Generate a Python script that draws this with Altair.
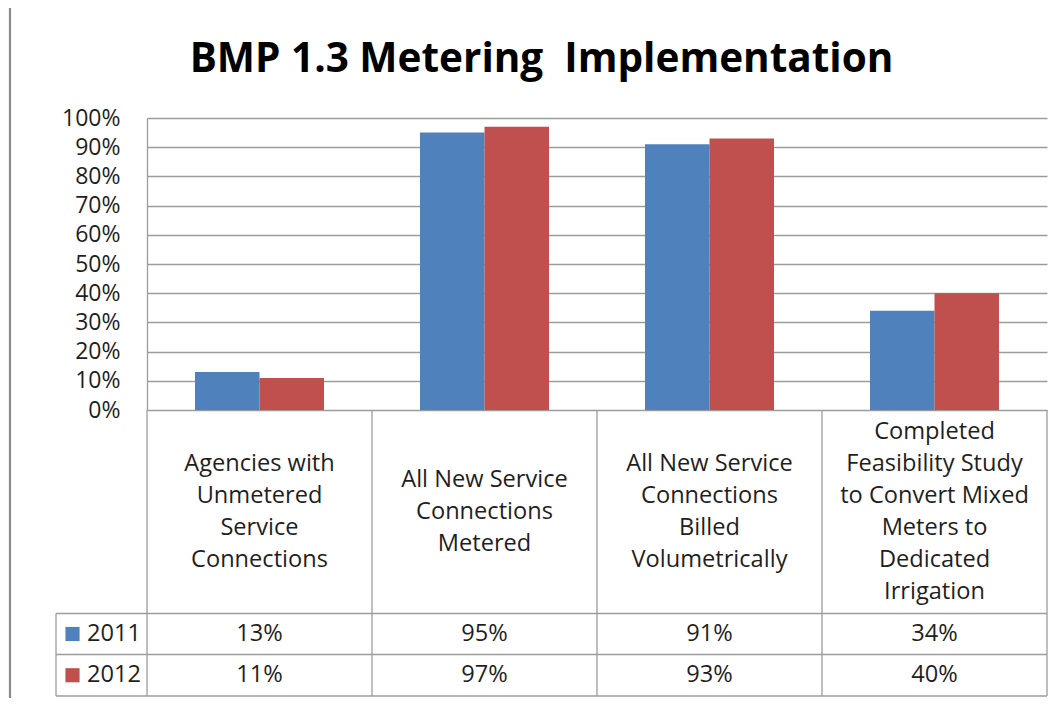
import altair as alt
import pandas as pd

# ---------------- data ----------------
CATEGORIES = [
    "Agencies with Unmetered Service Connections",
    "All New Service Connections Metered",
    "All New Service Connections Billed Volumetrically",
    "Completed Feasibility Study to Convert Mixed Meters to Dedicated Irrigation",
]
CATEGORY_LINES = [
    ["Agencies with", "Unmetered", "Service", "Connections"],
    ["All New Service", "Connections", "Metered"],
    ["All New Service", "Connections", "Billed", "Volumetrically"],
    ["Completed", "Feasibility Study", "to Convert Mixed", "Meters to", "Dedicated", "Irrigation"],
]
SERIES = ["2011", "2012"]
VALUES_2011 = [0.13, 0.95, 0.91, 0.34]
VALUES_2012 = [0.11, 0.97, 0.93, 0.40]
Y_TICKS = [0.0, 0.1, 0.2, 0.3, 0.4, 0.5, 0.6, 0.7, 0.8, 0.9, 1.0]
TITLE = "BMP 1.3 Metering\u00a0 Implementation"

# ---------------- style ----------------
FONT = "Open Sans"
BLUE = "#4F81BD"
RED = "#C0504D"
GRID = "#9c9c9c"
FRAME = "#8a8a8a"
TXT = "#1f1f1f"
FS = 23.6
LH = 32

W = 900          # plot width (4 columns of 225 px)
BAR_H = 292      # 0..100 % area
HEAD_BOT = 495.5  # bottom of category-label row
ROW1_BOT = 536.5
ROW2_BOT = 578
H = ROW2_BOT

rows = []
for s, vals in zip(SERIES, [VALUES_2011, VALUES_2012]):
    for c, v in zip(CATEGORIES, vals):
        rows.append({"category": c, "series": s, "value": v,
                     "text": f"{round(v * 100)}%"})
df = pd.DataFrame(rows)
cat_df = pd.DataFrame({"category": CATEGORIES,
                       "label": ["\n".join(l) for l in CATEGORY_LINES],
                       "nlines": [len(l) for l in CATEGORY_LINES]})
one = pd.DataFrame({"k": [0]})

X = alt.X("category:N", sort=CATEGORIES,
          scale=alt.Scale(paddingInner=0, paddingOuter=0), axis=None)
COLOR = alt.Color("series:N", scale=alt.Scale(domain=SERIES, range=[BLUE, RED]),
                  legend=None)

bars = alt.Chart(df).mark_bar().encode(
    x=X,
    xOffset=alt.XOffset("series:N", sort=SERIES,
                        scale=alt.Scale(paddingInner=0, paddingOuter=0.744)),
    y=alt.Y("value:Q", scale=alt.Scale(domain=[0, 1], range=[BAR_H, 0]),
            axis=alt.Axis(values=Y_TICKS, format=".0%", grid=True,
                          gridColor=GRID, gridWidth=1.3, domain=True,
                          domainColor=GRID, domainWidth=1.3, ticks=False,
                          labelPadding=27, labelFontSize=23, labelFont=FONT,
                          labelColor=TXT, title=None)),
    color=COLOR,
)


def hrule(y, x1, x2, color=GRID, w=1.3):
    return alt.Chart(one).mark_rule(color=color, strokeWidth=w).encode(
        x=alt.value(x1), x2=alt.value(x2), y=alt.value(y))


def vrule(x, y1, y2, color=GRID, w=1.3):
    return alt.Chart(one).mark_rule(color=color, strokeWidth=w).encode(
        x=alt.value(x), y=alt.value(y1), y2=alt.value(y2))


# column dividers of the data table (left edge of each category band)
col_lines = alt.Chart(cat_df).mark_rule(color=GRID, strokeWidth=1.3).encode(
    x=alt.X("category:N", sort=CATEGORIES, bandPosition=0,
            scale=alt.Scale(paddingInner=0, paddingOuter=0), axis=None),
    y=alt.value(BAR_H), y2=alt.value(H))

table_lines = [
    col_lines,
    vrule(W, BAR_H, H),
    vrule(-91, HEAD_BOT, H),
    hrule(HEAD_BOT, -91, W),
    hrule(ROW1_BOT, -91, W),
    hrule(ROW2_BOT, -91, W),
]

# category labels, each block vertically centred in the header cell
cat_layers = []
head_mid = (BAR_H + HEAD_BOT) / 2
for i in range(len(CATEGORIES)):
    sub = cat_df.iloc[[i]]
    n = int(sub["nlines"].iloc[0])
    cat_layers.append(
        alt.Chart(sub).mark_text(
            lineBreak="\n", baseline="middle", align="center", lineHeight=LH,
            font=FONT, fontSize=FS, color=TXT).encode(
            x=X, y=alt.value(head_mid - (n - 1) * LH / 2), text="label:N"))

row_layers = []
row_centers = [(HEAD_BOT + ROW1_BOT) / 2, (ROW1_BOT + ROW2_BOT) / 2]
for s, yc in zip(SERIES, row_centers):
    sdf = df[df["series"] == s]
    row_layers.append(
        alt.Chart(sdf).mark_text(baseline="middle", align="center", font=FONT,
                                 fontSize=FS, color=TXT).encode(
            x=X, y=alt.value(yc), text="text:N"))
    row_layers.append(
        alt.Chart(sdf.head(1)).mark_square(size=200, opacity=1).encode(
            x=alt.value(-74.5), y=alt.value(yc), color=COLOR))
    row_layers.append(
        alt.Chart(sdf.head(1)).mark_text(baseline="middle", align="left",
                                         font=FONT, fontSize=FS, color=TXT).encode(
            x=alt.value(-60), y=alt.value(yc), text="series:N"))

title = alt.Chart(pd.DataFrame({"t": [TITLE]})).mark_text(
    font=FONT, fontSize=40.5, fontWeight="bold", color="#000000",
    align="center", baseline="alphabetic").encode(
    x=alt.value(394.5), y=alt.value(-46), text="t:N")

frame = [
    hrule(-112, -137, 1000, color=FRAME, w=2.2),
    vrule(-137, -112, 700, color=FRAME, w=2.2),
]

chart = alt.layer(
    bars, *table_lines, *cat_layers, *row_layers, title, *frame
).properties(
    width=W, height=H,
    padding={"left": 139, "top": 110, "right": 8, "bottom": 2},
    autosize=alt.AutoSizeParams(type="none"),
    background="white",
).configure_view(stroke=None)

chart.save("out.html", embed_options={"renderer": "svg", "actions": False})
